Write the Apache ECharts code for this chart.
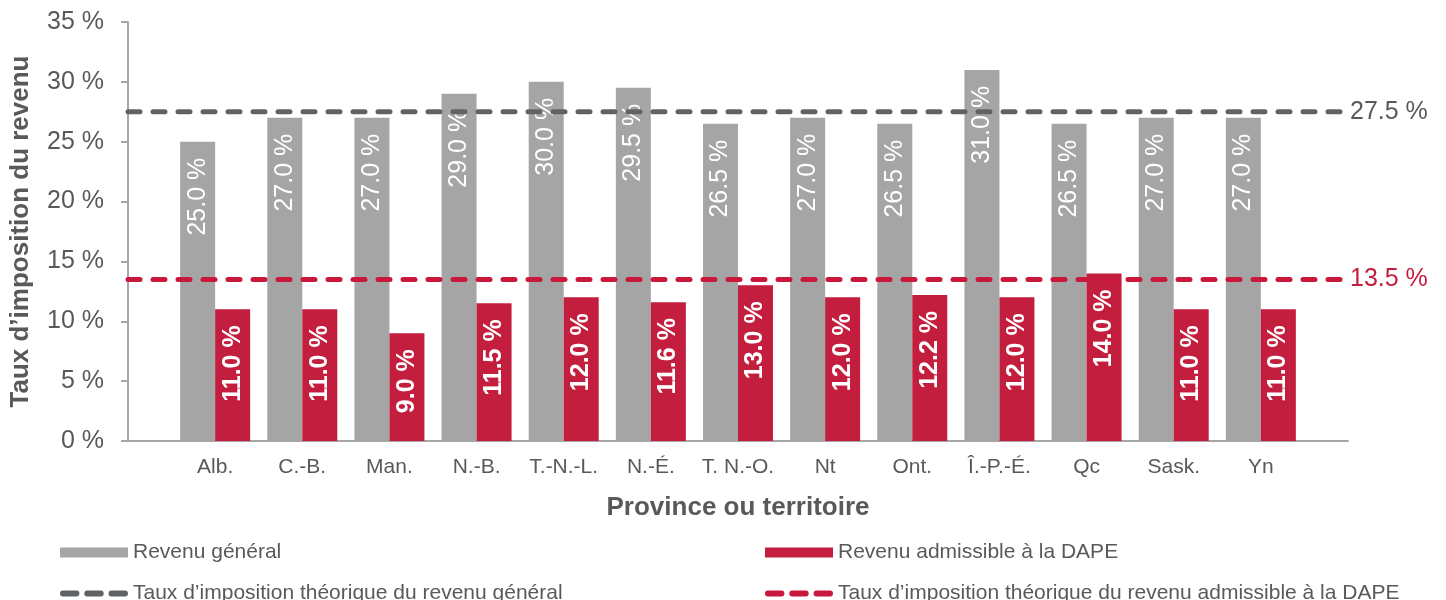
<!DOCTYPE html>
<html>
<head>
<meta charset="utf-8">
<script src="https://cdn.jsdelivr.net/npm/echarts@6/dist/echarts.min.js"></script>
<style>
  html, body { margin: 0; padding: 0; background: #fff; }
  #main { width: 1446px; height: 600px; }
</style>
</head>
<body>
<div id="main"></div>
<script>
// provinces / territoires
var categories = ["Alb.", "C.-B.", "Man.", "N.-B.", "T.-N.-L.", "N.-É.", "T. N.-O.", "Nt", "Ont.", "Î.-P.-É.", "Qc", "Sask.", "Yn"];
var generalRates = [25.0, 27.0, 27.0, 29.0, 30.0, 29.5, 26.5, 27.0, 26.5, 31.0, 26.5, 27.0, 27.0];
var dapeRates = [11.0, 11.0, 9.0, 11.5, 12.0, 11.6, 13.0, 12.0, 12.2, 12.0, 14.0, 11.0, 11.0];
var generalTheory = 27.5;
var dapeTheory = 13.5;
var yTicks = [0, 5, 10, 15, 20, 25, 30, 35];

var textGrey = "#595959";
var barGrey = "#A5A5A5";
var barRed = "#C41E3F";
var lineGrey = "#606366";
var lineRed = "#C8193C";
var font = "'Liberation Sans', Arial, sans-serif";

// icône pointillée (3 tirets arrondis) pour la légende des lignes
var dashIcon = "path://M3,0h14a3,3 0 0 1 0,6h-14a3,3 0 0 1 0,-6z" +
  "M28,0h14a3,3 0 0 1 0,6h-14a3,3 0 0 1 0,-6z" +
  "M53,0h14a3,3 0 0 1 0,6h-14a3,3 0 0 1 0,-6z";

// axe avec une case vide à chaque bout (les lignes pointillées couvrent toute la largeur)
var xData = [""].concat(categories).concat([""]);
var padded = function (arr) { return [null].concat(arr).concat([null]); };
var flat = function (v) { return xData.map(function () { return v; }); };
var pct = function (p) { return p.value.toFixed(1) + " %"; };

var barLabel = function (bold) {
  return {
    show: true,
    position: "insideTop",
    distance: 16,
    rotate: 90,
    align: "right",
    verticalAlign: "middle",
    color: "#fff",
    fontSize: 25,
    fontFamily: font,
    fontWeight: bold ? "bold" : "normal",
    formatter: pct
  };
};

var legendBase = {
  itemWidth: 68,
  textStyle: { color: textGrey, fontSize: 21, fontFamily: font }
};

var chart = echarts.init(document.getElementById("main"));
chart.setOption({
  animation: false,
  grid: { left: 125, right: 98, top: 22, bottom: 159 },
  legend: [
    Object.assign({ data: [{ name: "Revenu général", icon: "rect" }], left: 55, top: 537, itemHeight: 10 }, legendBase),
    Object.assign({ data: [{ name: "Revenu admissible à la DAPE", icon: "rect" }], left: 760, top: 537, itemHeight: 10 }, legendBase),
    Object.assign({ data: [{ name: "Taux d’imposition théorique du revenu général", icon: dashIcon }], left: 55, top: 578, itemHeight: 6 }, legendBase),
    Object.assign({ data: [{ name: "Taux d’imposition théorique du revenu admissible à la DAPE", icon: dashIcon }], left: 760, top: 578, itemHeight: 6 }, legendBase)
  ],
  xAxis: {
    type: "category",
    data: xData,
    boundaryGap: false,
    name: "Province ou territoire",
    nameLocation: "middle",
    nameGap: 54,
    nameTextStyle: { color: textGrey, fontSize: 26, fontWeight: "bold", fontFamily: font },
    axisLine: { lineStyle: { color: "#A6A6A6", width: 2 } },
    axisTick: { show: false },
    axisLabel: { interval: 0, margin: 16, color: textGrey, fontSize: 21, fontFamily: font },
    splitLine: { show: false }
  },
  yAxis: {
    type: "value",
    min: yTicks[0],
    max: yTicks[yTicks.length - 1],
    interval: 5,
    name: "Taux d’imposition du revenu",
    nameLocation: "middle",
    nameGap: 94,
    nameTextStyle: { color: textGrey, fontSize: 26, fontWeight: "bold", fontFamily: font },
    axisLine: { show: true, lineStyle: { color: "#A6A6A6", width: 2 } },
    axisTick: { show: true, length: 7, lineStyle: { color: "#A6A6A6", width: 2 } },
    axisLabel: { margin: 24, color: textGrey, fontSize: 25, fontFamily: font, formatter: "{value} %" },
    splitLine: { show: false }
  },
  series: [
    {
      name: "Revenu général",
      type: "bar",
      data: padded(generalRates),
      barWidth: 35,
      barGap: "0%",
      itemStyle: { color: barGrey },
      label: barLabel(false)
    },
    {
      name: "Revenu admissible à la DAPE",
      type: "bar",
      data: padded(dapeRates),
      barWidth: 35,
      barGap: "0%",
      itemStyle: { color: barRed },
      label: barLabel(true)
    },
    {
      name: "Taux d’imposition théorique du revenu général",
      type: "line",
      data: flat(generalTheory),
      symbol: "none",
      itemStyle: { color: lineGrey },
      lineStyle: { color: lineGrey, width: 5, type: [12, 13], cap: "round" },
      endLabel: { show: true, distance: 2, color: textGrey, fontSize: 25, fontFamily: font, formatter: pct }
    },
    {
      name: "Taux d’imposition théorique du revenu admissible à la DAPE",
      type: "line",
      data: flat(dapeTheory),
      symbol: "none",
      itemStyle: { color: lineRed },
      lineStyle: { color: lineRed, width: 5, type: [12, 13], cap: "round" },
      endLabel: { show: true, distance: 2, color: barRed, fontSize: 25, fontFamily: font, formatter: pct }
    }
  ]
});
</script>
</body>
</html>
